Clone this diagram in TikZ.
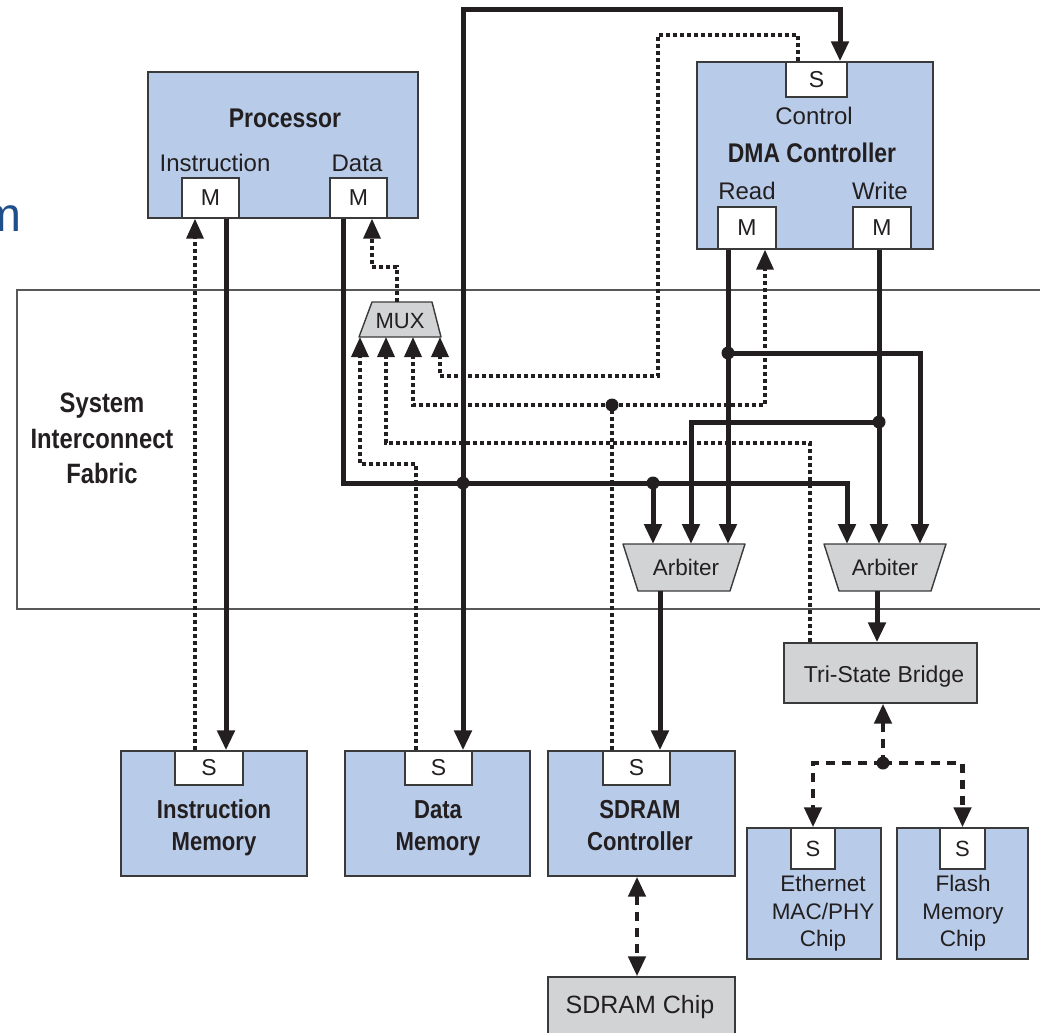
\documentclass[tikz,border=0pt]{standalone}
\usepackage{fontspec}
\setmainfont{Liberation Sans}
\newfontfamily\condfont{Liberation Sans}[FakeStretch=0.85]
\usetikzlibrary{arrows.meta}

\definecolor{bluefill}{HTML}{B8CCE9}
\definecolor{grayfill}{HTML}{D2D3D5}
\definecolor{edgecol}{HTML}{3A3A3A}
\definecolor{inkcol}{HTML}{231F20}
\definecolor{titleblue}{HTML}{1F4E8A}

\newcommand\tsz[1]{\fontsize{#1pt}{#1pt}\selectfont}

\tikzset{
  blk/.style={draw=edgecol, fill=bluefill, line width=1.4pt, inner sep=0pt},
  gblk/.style={draw=edgecol, fill=grayfill, line width=1.4pt, inner sep=0pt},
  gtrap/.style={draw=edgecol, fill=grayfill, line width=1.4pt, line join=round},
  port/.style={draw=edgecol, fill=white, line width=1.4pt, inner sep=0pt, text=inkcol, font=\tsz{23}},
  lbl/.style={inner sep=0pt, text=inkcol, anchor=base},
  reg/.style={lbl, font=\tsz{24}},
  small/.style={lbl, font=\tsz{22.5}},
  bld/.style={lbl, font=\condfont\bfseries\tsz{27}},
  fabric/.style={draw=edgecol!85, line width=1.4pt},
  sol/.style={draw=inkcol, line width=5pt, line join=miter},
  dotl/.style={draw=inkcol, line width=3.6pt, dash pattern=on 4pt off 3pt},
  dshl/.style={draw=inkcol, line width=4.6pt, dash pattern=on 9pt off 7pt},
  jdot/.style={circle, fill=inkcol, inner sep=0pt, minimum size=13pt},
  arr/.style={-{Triangle[length=20pt,width=17pt]}},
  rarr/.style={{Triangle[length=20pt,width=17pt]}-},
  barr/.style={{Triangle[length=20pt,width=17pt]}-{Triangle[length=20pt,width=17pt]}},
}

\begin{document}
\begin{tikzpicture}[x=1pt,y=-1pt]
\useasboundingbox (0,0) rectangle (1040,1032);

% cut title fragment at the left edge
\node[inner sep=0pt, anchor=base east, text=titleblue, font=\tsz{48}] (ttl) at (22,232) {m};

% interconnect fabric band
\draw[fabric] (1045,290) -- (17,290) -- (17,609) -- (1045,609);
\node[bld, font=\condfont\bfseries\tsz{28}] (fab1) at (102,412) {System};
\node[bld, font=\condfont\bfseries\tsz{28}] (fab2) at (102,448) {Interconnect};
\node[bld, font=\condfont\bfseries\tsz{28}] (fab3) at (102,483) {Fabric};

% processor
\node[blk, minimum width=270pt, minimum height=146pt] (proc) at (283,145) {};
\node[bld] (proct) at (285,128) {Processor};
\node[reg] (pit) at (215,172) {Instruction};
\node[reg] (pdt) at (357,172) {Data};
\node[port, minimum width=57pt, minimum height=40pt] (pim) at (210.5,198) {M};
\node[port, minimum width=57pt, minimum height=40pt] (pdm) at (358.5,198) {M};

% DMA controller
\node[blk, minimum width=236pt, minimum height=187pt] (dma) at (815,155.5) {};
\node[port, minimum width=61pt, minimum height=35pt] (dmaS) at (816.5,79.5) {S};
\node[reg] (dmact) at (814,125) {Control};
\node[bld] (dmat) at (812,163) {DMA Controller};
\node[reg] (dmart) at (747,200) {Read};
\node[reg] (dmawt) at (880,200) {Write};
\node[port, minimum width=58pt, minimum height=42pt] (dmaR) at (747,228) {M};
\node[port, minimum width=58pt, minimum height=42pt] (dmaW) at (882,228) {M};

% instruction memory
\node[blk, minimum width=186pt, minimum height=125pt] (im) at (214,813.5) {};
\node[port, minimum width=68pt, minimum height=34pt] (imS) at (209,768) {S};
\node[bld, font=\condfont\bfseries\tsz{26}] (imt1) at (214,818) {Instruction};
\node[bld, font=\condfont\bfseries\tsz{26}] (imt2) at (214,850) {Memory};

% data memory
\node[blk, minimum width=185pt, minimum height=125pt] (dm) at (437.5,813.5) {};
\node[port, minimum width=67pt, minimum height=34pt] (dmS) at (438.5,768) {S};
\node[bld, font=\condfont\bfseries\tsz{26}] (dmt1) at (438,818) {Data};
\node[bld, font=\condfont\bfseries\tsz{26}] (dmt2) at (438,850) {Memory};

% SDRAM controller
\node[blk, minimum width=187pt, minimum height=125pt] (sdc) at (641.5,813.5) {};
\node[port, minimum width=67pt, minimum height=34pt] (sdS) at (636.5,768) {S};
\node[bld, font=\condfont\bfseries\tsz{26}] (sdt1) at (640,818) {SDRAM};
\node[bld, font=\condfont\bfseries\tsz{26}] (sdt2) at (640,850) {Controller};

% SDRAM chip
\node[gblk, minimum width=187pt, minimum height=63pt] (chip) at (641.5,1008.5) {};
\node[lbl, font=\tsz{25}] (chipt) at (640,1013) {SDRAM Chip};

% tri-state bridge
\node[gblk, minimum width=193pt, minimum height=60pt] (bridge) at (880.5,673) {};
\node[lbl, font=\tsz{23}] (bridget) at (884,682) {Tri-State Bridge};

% off-chip slaves
\node[blk, minimum width=134pt, minimum height=131pt] (eth) at (814,893.5) {};
\node[port, minimum width=44pt, minimum height=41pt, font=\tsz{22}] (ethS) at (813,848.5) {S};
\node[small] (etht1) at (823,891) {Ethernet};
\node[small] (etht2) at (823,919) {MAC/PHY};
\node[small] (etht3) at (823,946) {Chip};
\node[blk, minimum width=131pt, minimum height=131pt] (fl) at (962.5,893.5) {};
\node[port, minimum width=45pt, minimum height=41pt, font=\tsz{22}] (flS) at (962.5,848.5) {S};
\node[small] (flt1) at (963,891) {Flash};
\node[small] (flt2) at (963,919) {Memory};
\node[small] (flt3) at (963,946) {Chip};

% multiplexer and arbiters
\draw[gtrap] (372,302) -- (432,302) -- (441,337) -- (359,337) -- cycle;
\node[lbl, font=\tsz{22}] (mux) at (400,328) {MUX};
\draw[gtrap] (623,544) -- (745,544) -- (730,591) -- (638,591) -- cycle;
\node[lbl, font=\tsz{22.5}] (arbL) at (686,575) {Arbiter};
\draw[gtrap] (824,544) -- (946,544) -- (931,591) -- (839,591) -- cycle;
\node[lbl, font=\tsz{22.5}] (arbR) at (885,575) {Arbiter};

% port coordinates on the multiplexer and arbiters
\coordinate (mo) at (397,302);
\coordinate (m1) at (360,337);
\coordinate (m2) at (386,337);
\coordinate (m3) at (413,337);
\coordinate (m4) at (440,337);
\coordinate (aL1) at (653,544);
\coordinate (aL2) at (691,544);
\coordinate (aL3) at (728,544);
\coordinate (aR1) at (847,544);
\coordinate (aR2) at (879,544);
\coordinate (aR3) at (920,544);
\coordinate (aLo) at (660,591);
\coordinate (aRo) at (877,591);

% junctions
\coordinate (jd) at (463,483);
\coordinate (jda) at (653,483);
\coordinate (jr) at (728,353);
\coordinate (jw) at (879,422);
\coordinate (js) at (612,405);
\coordinate (jb) at (883,763);

% read/write data paths
\draw[sol,arr] ([xshift=15.5pt]pim.south) -- ([xshift=17pt]imS.north);
\draw[sol,arr] ([xshift=-15.5pt]pdm.south) |- (jda) -| (aR1);
\draw[sol,arr] (jda) -- (aL1);
\draw[sol,barr] (dmS.north -| jd) -- (463,10) -| ([xshift=23.5pt]dmaS.north);
\draw[sol,arr] ([xshift=-19pt]dmaR.south) -- (aL3);
\draw[sol,arr] (jr) -| (aR3);
\draw[sol,arr] ([xshift=-3pt]dmaW.south) -- (aR2);
\draw[sol,arr] (jw) -| (aL2);
\draw[sol,arr] (aLo) -- (sdS.north -| aLo);
\draw[sol,arr] (aRo) -- (bridge.north -| aRo);

% return paths
\draw[dotl,arr] ([xshift=-14pt]imS.north) -- ([xshift=-15.5pt]pim.south);
\draw[dotl,arr] (mo) -- (397,267) -| ([xshift=13.5pt]pdm.south);
\draw[dotl,arr] ([xshift=-18.5pt]dmaS.north) -- (798,35) -| (658,376) -| (m4);
\draw[dotl] ([xshift=-24.5pt]sdS.north) -- (js);
\draw[dotl,arr] (js) -| (m3);
\draw[dotl,arr] (js) -| ([xshift=18pt]dmaR.south);
\draw[dotl,arr] ([xshift=-70.5pt]bridge.north) -- (810,443) -| (m2);
\draw[dotl,arr] ([xshift=-22.5pt]dmS.north) -- (416,464) -| (m1);

% off-chip buses
\draw[dshl,rarr] ([xshift=2.5pt]bridge.south) -- (jb);
\draw[dshl,arr] (jb) -| (ethS.north);
\draw[dshl,arr] (jb) -| (flS.north);
\draw[dshl,barr] ([xshift=-4.5pt]sdc.south) -- ([xshift=-4.5pt]chip.north);

% junction dots
\node[jdot] (djd) at (jd) {};
\node[jdot] (djda) at (jda) {};
\node[jdot] (djr) at (jr) {};
\node[jdot] (djw) at (jw) {};
\node[jdot] (djs) at (js) {};
\node[jdot] (djb) at (jb) {};
\end{tikzpicture}
\end{document}
